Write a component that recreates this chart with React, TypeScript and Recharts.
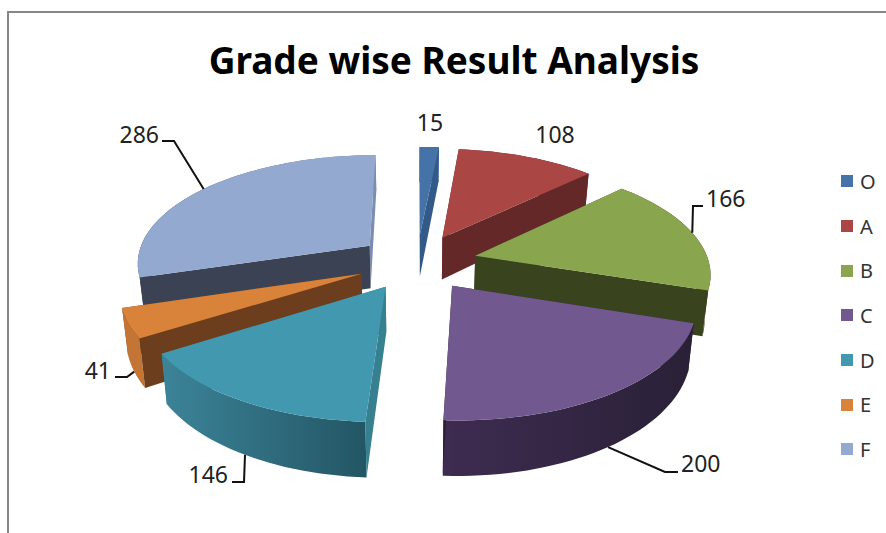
import { Legend, Pie, PieChart } from "recharts";

const grades = ["O", "A", "B", "C", "D", "E", "F"];
const counts = [15, 108, 166, 200, 146, 41, 286];

const topColors = ["#4572A7", "#AA4643", "#89A54E", "#71588F", "#4198AF", "#D98239", "#93A9CF"];
const startWallColors = ["#325A88", "#642828", "#39431D", "#2B2237", "#37808F", "#6D3E1D", "#3B4254"];
const endWallColors = ["#325A88", "#642828", "#39431D", "#2B2237", "#37808F", "#6D3E1D", "#7B8DB0"];
const rimLeftColors = ["#325A88", "#642828", "#39431D", "#3E2C51", "#3C8499", "#C27534", "#3B4254"];
const rimRightColors = ["#325A88", "#642828", "#39431D", "#292036", "#235665", "#C27534", "#7B8DB0"];

// back to front, so nearer slices cover the ones behind
const paintOrder = ["O", "A", "F", "B", "E", "D", "C"];

const rows = grades.map((grade, i) => ({ grade, count: counts[i] }));

const CX = 417;
const CY = 262;
const RADIUS = 233.6;
const DEPTH_RADIUS = 108;
const PERSPECTIVE = 0.143;
const EXPLODE = 0.2575;

const rad = (deg: number) => (deg * Math.PI) / 180;

type Pt = [number, number];

// projects a point of an exploded slice onto the screen, angles clockwise from top
function project(cx: number, cy: number, r: number, mid: number, theta: number, frac: number): Pt {
  const x = EXPLODE * Math.sin(rad(mid)) + frac * Math.sin(rad(theta));
  const z = -(EXPLODE * Math.cos(rad(mid)) + frac * Math.cos(rad(theta)));
  const d = 1 - PERSPECTIVE * z;
  return [cx + (r * x) / d, cy + (DEPTH_RADIUS * z) / d];
}

// pushes a top-face point down to the bottom of the wall
function dropped(p: Pt, cx: number): Pt {
  return [cx + (p[0] - cx) * 0.98, p[1] + 42 + (p[1] - 240) * 0.075];
}

const toPath = (pts: Pt[]) =>
  "M" + pts.map((p) => `${p[0].toFixed(1)},${p[1].toFixed(1)}`).join("L") + "Z";

function Slice3D(props: any) {
  const { cx, cy, startAngle, endAngle, midAngle, outerRadius, name } = props;
  const i = grades.indexOf(name);
  const t0 = 90 - startAngle;
  const t1 = 90 - endAngle;
  const mid = 90 - midAngle;
  const apex = project(cx, cy, outerRadius, mid, mid, 0);

  const rim: Pt[] = [];
  const steps = Math.max(2, Math.ceil((t1 - t0) / 2));
  for (let s = 0; s <= steps; s++) {
    rim.push(project(cx, cy, outerRadius, mid, t0 + ((t1 - t0) * s) / steps, 1));
  }
  const first = rim[0];
  const last = rim[rim.length - 1];
  const rimBottom = rim.map((p) => dropped(p, cx)).reverse();
  const gradId = `rim-${name}`;

  const startWall = (
    <path d={toPath([apex, first, dropped(first, cx), dropped(apex, cx)])} fill={startWallColors[i]} />
  );
  const endWall = (
    <path d={toPath([apex, last, dropped(last, cx), dropped(apex, cx)])} fill={endWallColors[i]} />
  );
  // the wall whose rim end sits nearer the viewer goes over the rim
  const startIsNear = first[1] > last[1];

  return (
    <g>
      <defs>
        <linearGradient
          id={gradId}
          gradientUnits="userSpaceOnUse"
          x1={Math.min(first[0], last[0])}
          x2={Math.max(first[0], last[0])}
          y1={0}
          y2={0}
        >
          <stop offset="0%" stopColor={rimLeftColors[i]} />
          <stop offset="100%" stopColor={rimRightColors[i]} />
        </linearGradient>
      </defs>
      {startIsNear ? endWall : startWall}
      <path d={toPath([...rim, ...rimBottom])} fill={`url(#${gradId})`} />
      {startIsNear ? startWall : endWall}
      <path d={toPath([apex, ...rim])} fill={topColors[i]} />
    </g>
  );
}

// value label spot and the elbow of its leader, by grade
const labelSpots: Record<string, { x: number; y: number; anchor: string; wall: boolean; elbow: Pt[] }> = {
  O: { x: 430, y: 122, anchor: "middle", wall: false, elbow: [] },
  A: { x: 555, y: 134, anchor: "middle", wall: false, elbow: [] },
  B: { x: 706, y: 198, anchor: "start", wall: false, elbow: [[693, 206], [703, 206]] },
  C: { x: 681, y: 463, anchor: "start", wall: true, elbow: [[665, 472], [678, 472]] },
  D: { x: 228, y: 474, anchor: "end", wall: true, elbow: [[244, 482], [232, 482]] },
  E: { x: 111, y: 370, anchor: "end", wall: true, elbow: [[127, 377], [115, 377]] },
  F: { x: 159, y: 134, anchor: "end", wall: false, elbow: [[174, 141], [162, 141]] },
};

function renderValueLabel(props: any) {
  const { cx, cy, midAngle, outerRadius, name, value } = props;
  const spot = labelSpots[name];
  const mid = 90 - midAngle;
  let start = project(cx, cy, outerRadius, mid, mid, 1);
  if (spot.wall) start = dropped(start, cx);
  return (
    <g key={name}>
      {spot.elbow.length > 0 && (
        <polyline
          points={[start, ...spot.elbow].map((p) => p.join(",")).join(" ")}
          fill="none"
          stroke="#111"
          strokeWidth={2}
        />
      )}
      <text
        x={spot.x}
        y={spot.y}
        textAnchor={spot.anchor as any}
        dominantBaseline="central"
        fontFamily="'Noto Sans', sans-serif"
        fontSize={23}
        fill="#222"
      >
        {value}
      </text>
    </g>
  );
}

function GradeLegend() {
  return (
    <div style={{ fontFamily: "'Noto Sans', sans-serif", fontSize: 20, color: "#333" }}>
      {rows.map((r, i) => (
        <div key={r.grade} style={{ display: "flex", alignItems: "center", height: 44.7 }}>
          <span style={{ width: 12, height: 12, background: topColors[i], marginRight: 7 }} />
          {r.grade}
        </div>
      ))}
    </div>
  );
}

export default function App() {
  return (
    <div style={{ position: "absolute", left: 0, top: 0, width: 886, height: 533, overflow: "hidden", background: "#fff" }}>
      <div
        style={{
          position: "absolute",
          left: 7,
          top: 11,
          right: 0,
          bottom: 0,
          borderTop: "2px solid #868686",
          borderLeft: "2px solid #868686",
        }}
      />
      <PieChart
        width={886}
        height={533}
        margin={{ top: 0, right: 0, bottom: 0, left: 0 }}
        style={{ position: "absolute", left: 0, top: 0 }}
      >
        <text
          x={454}
          y={59}
          textAnchor="middle"
          dominantBaseline="central"
          fontFamily="'Noto Sans', sans-serif"
          fontWeight={700}
          fontSize={37}
          fill="#000"
        >
          Grade wise Result Analysis
        </text>
        {paintOrder.map((grade) => (
          <Pie
            key={grade}
            data={rows}
            dataKey="count"
            nameKey="grade"
            cx={CX}
            cy={CY}
            innerRadius={0}
            outerRadius={RADIUS}
            startAngle={90}
            endAngle={-270}
            stroke="none"
            legendType="none"
            isAnimationActive={false}
            shape={(p: any) => (p.name === grade ? <Slice3D {...p} /> : <g />)}
            label={grade === "C" ? renderValueLabel : false}
            labelLine={false}
          />
        ))}
        <Legend
          content={() => <GradeLegend />}
          layout="vertical"
          wrapperStyle={{ position: "absolute", left: 841, top: 159, width: 45 }}
        />
      </PieChart>
    </div>
  );
}
